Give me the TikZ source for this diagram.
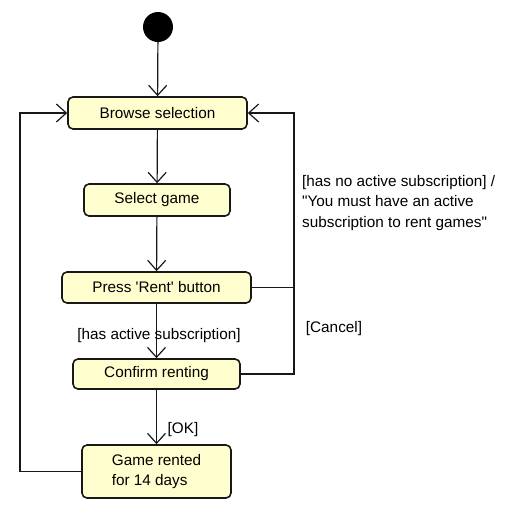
\documentclass[tikz,border=0pt]{standalone}
\usepackage{fontspec}
\setmainfont{Liberation Sans}[Ligatures=TeXOff]
\usetikzlibrary{arrows.meta}
\definecolor{actfill}{HTML}{FEFECE}
\definecolor{actline}{HTML}{181818}
\begin{document}
\begin{tikzpicture}[x=1pt,y=-1pt,
  act/.style={draw=actline, line width=1.6pt, fill=actfill, rounded corners=5pt,
    inner sep=0pt, font=\fontsize{15.3}{20.5}\selectfont},
  lbl/.style={inner sep=0pt, font=\fontsize{15.3}{20.5}\selectfont},
  flow/.style={draw=actline, line width=1.2pt, -{Straight Barb[length=10pt,width=18pt,line width=1.2pt]}},
  plain/.style={draw=actline, line width=1.2pt}]
\useasboundingbox (0,0) rectangle (528,512);
\node[circle, fill=black, inner sep=0pt, minimum size=30pt] (start) at (158,27) {};
\node[act, minimum width=179pt, minimum height=32pt] (browse) at (157.5,113) {Browse selection};
\node[act, minimum width=146pt, minimum height=32pt] (select) at (157,200) {Select game};
\node[act, minimum width=189pt, minimum height=31pt] (press) at (156.5,287.5) {Press 'Rent' button};
\node[act, minimum width=167pt, minimum height=30pt] (confirm) at (156.5,374) {Confirm renting};
\node[act, minimum width=149pt, minimum height=53pt, align=left] (rented) at (156.5,471.5) {Game rented\\for 14 days};
\coordinate (lx) at (20,471.5);
\coordinate (rx) at (294,113);
\draw[flow] (start) -- (browse);
\draw[flow] (browse) -- (select);
\draw[flow] (select) -- (press);
\draw[flow] (press) -- (confirm);
\draw[flow] (confirm) -- (rented);
\draw[flow] (rented.west) -- (lx) |- (browse.west);
\draw[plain] (press.east) -- (press.east -| rx);
\draw[flow] (confirm.east) -| (rx) -- (browse.east);
\node[lbl, anchor=west, align=left] (nosub) at (302,203) {[has no active subscription] /\\"You must have an active\\subscription to rent games"};
\node[lbl] (cancel) at (334,329) {[Cancel]};
\node[lbl] (hasact) at (159,336) {[has active subscription]};
\node[lbl] (ok) at (183,430) {[OK]};
\end{tikzpicture}
\end{document}
